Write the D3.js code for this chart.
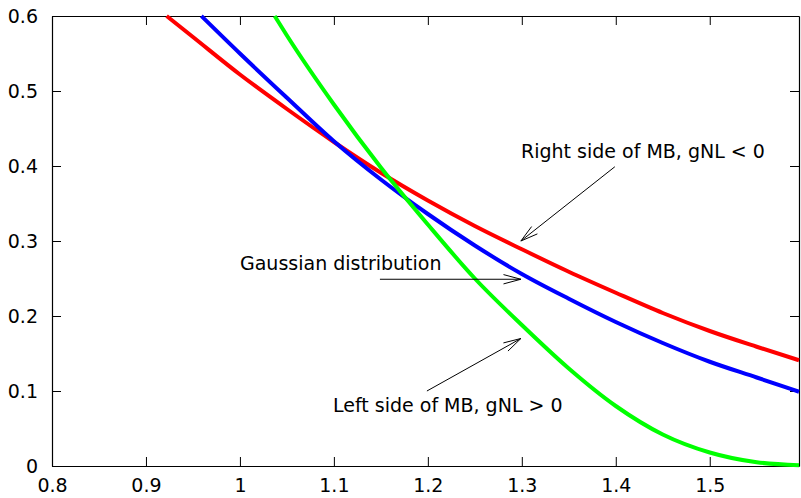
<!DOCTYPE html>
<html>
<head>
<meta charset="utf-8">
<script src="https://cdn.jsdelivr.net/npm/d3@7"></script>
<style>
  body { margin: 0; background: #fff; }
  text { font-family: "DejaVu Sans", sans-serif; font-size: 19px; fill: #000; }
</style>
</head>
<body>
<div id="chart"></div>
<script>
// curves
const redX   = [0.922, 0.95, 1.0, 1.05, 1.1, 1.15, 1.2, 1.25, 1.3, 1.35, 1.4, 1.45, 1.5, 1.55, 1.595];
const redY   = [0.600, 0.572, 0.522, 0.476, 0.432, 0.391, 0.354, 0.320, 0.289, 0.259, 0.231, 0.204, 0.180, 0.159, 0.141];
const blueX  = [0.959, 1.0, 1.05, 1.1, 1.15, 1.2, 1.25, 1.3, 1.35, 1.4, 1.45, 1.5, 1.55, 1.595];
const blueY  = [0.600, 0.550, 0.491, 0.433, 0.382, 0.336, 0.294, 0.256, 0.223, 0.192, 0.164, 0.139, 0.118, 0.099];
const greenX = [1.037, 1.05, 1.1, 1.15, 1.2, 1.25, 1.3, 1.35, 1.4, 1.45, 1.5, 1.55, 1.595];
const greenY = [0.600, 0.574, 0.482, 0.398, 0.322, 0.250, 0.188, 0.130, 0.080, 0.042, 0.018, 0.005, 0.001];

const xTicks = [0.8, 0.9, 1, 1.1, 1.2, 1.3, 1.4, 1.5];
const yTicks = [0, 0.1, 0.2, 0.3, 0.4, 0.5, 0.6];

const series = [
  { name: "Right side of MB, gNL < 0", xs: redX, ys: redY, color: "#ff0000" },
  { name: "Gaussian distribution", xs: blueX, ys: blueY, color: "#0000ff" },
  { name: "Left side of MB, gNL > 0", xs: greenX, ys: greenY, color: "#00ff00" }
];

const width = 801, height = 498;
const margin = { left: 52, right: 799, top: 16, bottom: 466 };

const x = d3.scaleLinear().domain([0.8, 1.595]).range([margin.left, margin.right]);
const y = d3.scaleLinear().domain([0, 0.6]).range([margin.bottom, margin.top]);

const svg = d3.select("#chart").append("svg")
  .attr("width", width)
  .attr("height", height);

svg.append("rect").attr("width", width).attr("height", height).attr("fill", "#fff");

// axes with ticks pointing inward, mirrored on top / right
const fmt = d => d3.format("")(d);
svg.append("g")
  .attr("transform", "translate(0," + margin.bottom + ")")
  .call(d3.axisBottom(x).tickValues(xTicks).tickSizeInner(-9).tickSizeOuter(0).tickPadding(13).tickFormat(fmt));
svg.append("g")
  .attr("transform", "translate(" + margin.left + ",0)")
  .call(d3.axisLeft(y).tickValues(yTicks).tickSizeInner(-9).tickSizeOuter(0).tickPadding(14).tickFormat(fmt));
svg.append("g")
  .attr("transform", "translate(0," + margin.top + ")")
  .call(d3.axisTop(x).tickValues(xTicks).tickSizeInner(-9).tickSizeOuter(0).tickFormat(""));
svg.append("g")
  .attr("transform", "translate(" + margin.right + ",0)")
  .call(d3.axisRight(y).tickValues(yTicks).tickSizeInner(-9).tickSizeOuter(0).tickFormat(""));

svg.selectAll(".domain").attr("stroke", "#000").attr("stroke-width", 1.2);
svg.selectAll(".tick line").attr("stroke", "#000");
svg.selectAll(".tick text").style("font-size", "19px").attr("fill", "#000")
  .style("font-family", "DejaVu Sans, sans-serif");

// curves
const line = d3.line()
  .x(d => x(d[0]))
  .y(d => y(d[1]))
  .curve(d3.curveMonotoneX);

series.forEach(s => {
  svg.append("path")
    .datum(s.xs.map((v, i) => [v, s.ys[i]]))
    .attr("fill", "none")
    .attr("stroke", s.color)
    .attr("stroke-width", 4)
    .attr("d", line);
});

// labels with arrows (arrow ends in data coordinates)
const notes = [
  { text: "Right side of MB, gNL < 0", tx: 521, ty: 158, from: [1.399, 0.399], to: [1.299, 0.300] },
  { text: "Gaussian distribution", tx: 240, ty: 270, from: [1.149, 0.249], to: [1.299, 0.249] },
  { text: "Left side of MB, gNL > 0", tx: 333, ty: 412, from: [1.199, 0.1], to: [1.299, 0.170] }
];

function arrowHead(x1, y1, x2, y2) {
  const ang = Math.atan2(y1 - y2, x1 - x2), len = 18, spread = 15 * Math.PI / 180;
  const a = [x2 + len * Math.cos(ang + spread), y2 + len * Math.sin(ang + spread)];
  const b = [x2 + len * Math.cos(ang - spread), y2 + len * Math.sin(ang - spread)];
  return "M" + a + "L" + x2 + "," + y2 + "L" + b;
}

notes.forEach(n => {
  svg.append("text").attr("x", n.tx).attr("y", n.ty).text(n.text);
  const x1 = x(n.from[0]), y1 = y(n.from[1]), x2 = x(n.to[0]), y2 = y(n.to[1]);
  svg.append("line")
    .attr("x1", x1).attr("y1", y1).attr("x2", x2).attr("y2", y2)
    .attr("stroke", "#000").attr("stroke-width", 1);
  svg.append("path")
    .attr("d", arrowHead(x1, y1, x2, y2))
    .attr("fill", "none").attr("stroke", "#000").attr("stroke-width", 1);
});
</script>
</body>
</html>
